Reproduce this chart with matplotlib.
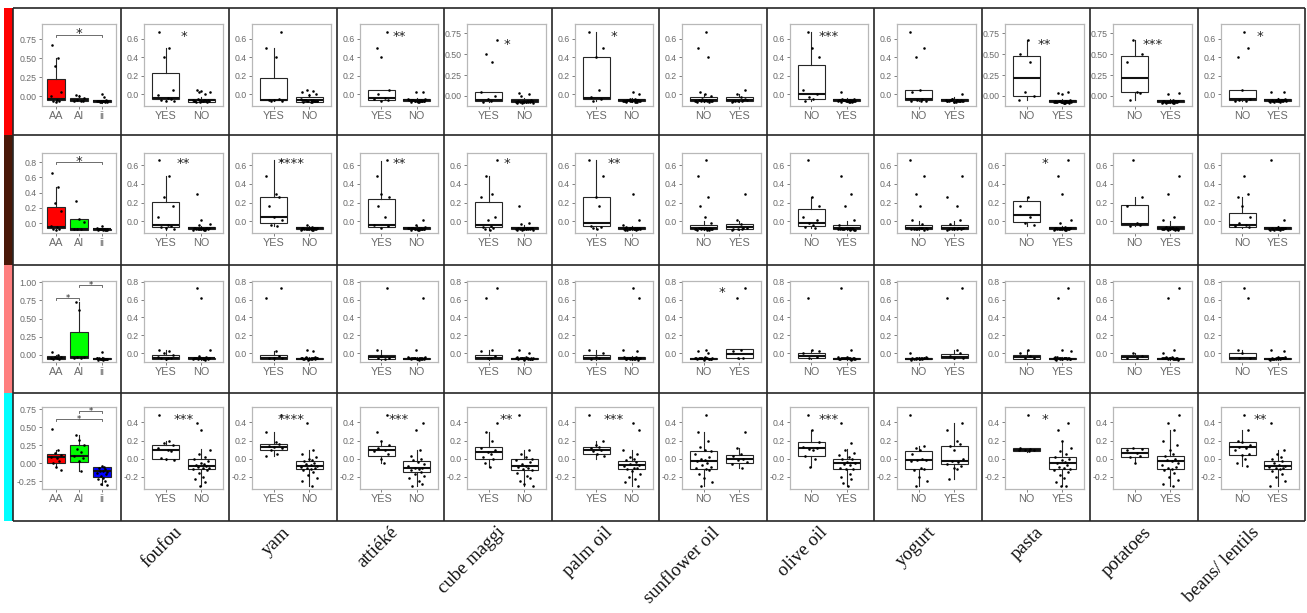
import matplotlib
matplotlib.use("Agg")
import matplotlib.pyplot as plt
from matplotlib.patches import Rectangle

# ---------------- data ----------------
FOODS = ["foufou", "yam", "attiéké", "cube maggi", "palm oil", "sunflower oil",
         "olive oil", "yogurt", "pasta", "potatoes", "beans/ lentils"]
GROUP_A = ["YES", "YES", "YES", "YES", "YES", "NO", "NO", "NO", "NO", "NO", "NO"]
GROUP_B = ["NO", "NO", "NO", "NO", "NO", "YES", "YES", "YES", "YES", "YES", "YES"]
GENOTYPES = ["AA", "AI", "ii"]
GENO_COLORS = ["#FF0000", "#00FF00", "#0000FF"]
ROW_COLORS = ["#FF0000", "#4A1808", "#FF7F7F", "#00FFFF"]

SIG_R1 = ["*", "", "**", "*", "*", "", "***", "", "**", "***", "*"]
SIG_R2 = ["**", "****", "**", "*", "**", "", "", "", "*", "", ""]
SIG_R3 = ["", "", "", "", "", "*", "", "", "", "", ""]
SIG_R4 = ["***", "****", "***", "**", "***", "", "***", "", "*", "", "**"]

# brackets in genotype column: (group from, group to, height)
BR_R1 = [(1, 3, 0.81)]
BR_R2 = [(1, 3, 0.80)]
BR_R3 = [(1, 2, 0.79), (2, 3, 0.97)]
BR_R4 = [(1, 3, 0.62), (2, 3, 0.73)]

# clusters of near-floor values
F1 = [-0.07, -0.06, -0.075, -0.065, -0.08, -0.07, -0.055, -0.075, -0.07, -0.06,
      -0.08, -0.065, -0.07, -0.075, -0.06, -0.085, -0.07, -0.065, -0.075, -0.05,
      -0.07, -0.08]
F2 = [-0.08, -0.07, -0.085, -0.075, -0.09, -0.08, -0.065, -0.085, -0.08, -0.07,
      -0.09, -0.075, -0.08, -0.085, -0.07, -0.095, -0.08, -0.075, -0.085, -0.06,
      -0.08, -0.09]
F3 = [-0.06, -0.05, -0.065, -0.055, -0.07, -0.06, -0.045, -0.065, -0.06, -0.05,
      -0.07, -0.055, -0.06, -0.065, -0.05, -0.075, -0.06, -0.055, -0.065, -0.04,
      -0.06, -0.07]

# box stats: (q1, median, q3, whisker low, whisker high)
R1_GENO_BOX = [(-0.05, -0.04, 0.22, -0.08, 0.5), (-0.065, -0.05, -0.03, -0.07, 0.01),
               (-0.08, -0.07, -0.055, -0.085, -0.045)]
R1_GENO_PTS = [[0.67, 0.5, 0.4, 0.05, 0.0, -0.05, -0.06, -0.07, -0.08],
               [0.01, 0.0, -0.02, -0.05, -0.06, -0.06, -0.07],
               [0.03, -0.01] + F1[:13]]
R1_A_BOX = [(-0.05, -0.04, 0.23, -0.07, 0.5), (-0.065, -0.06, 0.18, -0.07, 0.5),
            (-0.06, -0.04, 0.05, -0.07, 0.05), (-0.06, -0.05, 0.05, -0.07, 0.05),
            (-0.05, -0.04, 0.4, -0.07, 0.67), (-0.075, -0.06, -0.03, -0.085, 0.0),
            (-0.045, 0.0, 0.32, -0.07, 0.67), (-0.065, -0.055, 0.05, -0.07, 0.05),
            (0.0, 0.22, 0.48, -0.05, 0.67), (0.05, 0.22, 0.48, -0.05, 0.67),
            (-0.06, -0.05, 0.05, -0.07, 0.05)]
R1_B_BOX = [(-0.08, -0.065, -0.045, -0.085, -0.03), (-0.08, -0.06, -0.025, -0.085, 0.0),
            (-0.075, -0.065, -0.05, -0.085, -0.04), (-0.075, -0.06, -0.04, -0.085, -0.02),
            (-0.075, -0.065, -0.05, -0.085, -0.04), (-0.075, -0.06, -0.03, -0.085, 0.0),
            (-0.075, -0.065, -0.05, -0.085, -0.04), (-0.075, -0.065, -0.045, -0.085, -0.03),
            (-0.075, -0.065, -0.05, -0.085, -0.04), (-0.075, -0.065, -0.05, -0.085, -0.04),
            (-0.075, -0.065, -0.05, -0.085, -0.04)]
R1_A_PTS = [[0.67, 0.5, 0.4, 0.05, -0.01, -0.04, -0.05, -0.06, -0.07, -0.07],
            [0.67, 0.5, 0.4, -0.05, -0.06, -0.06, -0.07, -0.07],
            [0.67, 0.5, 0.4, 0.05, 0.0, -0.04, -0.05, -0.06, -0.07],
            [0.67, 0.5, 0.4, 0.05, 0.0, -0.04, -0.06, -0.07],
            [0.67, 0.5, 0.4, 0.05, -0.03, -0.05, -0.07],
            [0.67, 0.5, 0.4, 0.03, 0.0, -0.02] + F1[:14],
            [0.67, 0.5, 0.4, 0.05, 0.0, -0.03, -0.05, -0.07],
            [0.67, 0.5, 0.4, 0.05, 0.03, -0.05, -0.06, -0.07, -0.07, -0.07],
            [0.67, 0.5, 0.4, 0.05, 0.0, -0.05],
            [0.67, 0.5, 0.4, 0.05, 0.04, -0.05],
            [0.67, 0.5, 0.4, 0.05, -0.05, -0.06, -0.07, -0.07]]
R1_B_PTS = [[0.05, 0.04, 0.03, 0.02, 0.0] + F1[:16],
            [0.05, 0.04, 0.03, 0.0, -0.01] + F1[:18],
            [0.03, 0.02] + F1[:20],
            [0.03, 0.02, 0.0] + F1[:20],
            [0.02, 0.0] + F1[:22],
            [0.05, 0.0, -0.03] + F1[:8],
            [0.02] + F1[:22],
            [0.0] + F1[:21],
            [0.05, 0.03, 0.02] + F1[:22],
            [0.03, 0.02] + F1[:22],
            [0.03, 0.02] + F1[:21]]

R2_GENO_BOX = [(-0.06, -0.045, 0.21, -0.09, 0.48), (-0.085, -0.07, 0.05, -0.09, 0.05),
               (-0.09, -0.08, -0.07, -0.095, -0.06)]
R2_GENO_PTS = [[0.66, 0.48, 0.26, 0.16, -0.04, -0.05, -0.07, -0.08, -0.09],
               [0.29, 0.05, 0.02, -0.07, -0.08, -0.08],
               [-0.04] + F2[:14]]
R2_A_BOX = [(-0.06, -0.035, 0.21, -0.09, 0.48), (-0.02, 0.05, 0.26, -0.05, 0.66),
            (-0.06, -0.035, 0.24, -0.07, 0.65), (-0.06, -0.04, 0.21, -0.09, 0.48),
            (-0.05, -0.02, 0.26, -0.08, 0.66), (-0.08, -0.065, -0.035, -0.095, 0.0),
            (-0.045, -0.02, 0.13, -0.07, 0.26), (-0.08, -0.065, -0.035, -0.09, 0.0),
            (-0.01, 0.07, 0.22, -0.05, 0.26), (-0.04, -0.03, 0.18, -0.05, 0.26),
            (-0.06, -0.04, 0.09, -0.07, 0.26)]
R2_B_BOX = [(-0.085, -0.075, -0.06, -0.095, -0.05), (-0.085, -0.075, -0.06, -0.095, -0.05),
            (-0.085, -0.075, -0.06, -0.095, -0.05), (-0.085, -0.075, -0.06, -0.095, -0.04),
            (-0.085, -0.075, -0.06, -0.095, -0.05), (-0.08, -0.06, -0.03, -0.09, 0.0),
            (-0.085, -0.07, -0.04, -0.095, 0.0), (-0.08, -0.065, -0.035, -0.09, 0.0),
            (-0.085, -0.075, -0.06, -0.095, -0.05), (-0.085, -0.07, -0.045, -0.095, 0.0),
            (-0.085, -0.075, -0.06, -0.095, -0.05)]
R2_A_PTS = [[0.66, 0.48, 0.26, 0.16, 0.05, -0.04, -0.05, -0.06, -0.07, -0.08],
            [0.66, 0.48, 0.29, 0.26, 0.16, 0.05, 0.02, -0.04, -0.05],
            [0.66, 0.48, 0.29, 0.26, 0.16, 0.05, -0.04, -0.05, -0.07],
            [0.66, 0.48, 0.29, 0.26, 0.05, 0.02, -0.05, -0.06, -0.07, -0.08, -0.09],
            [0.66, 0.48, 0.26, 0.16, -0.05, -0.06, -0.07, -0.08],
            [0.66, 0.48, 0.26, 0.16, 0.05, -0.02] + F2[:16],
            [0.66, 0.26, 0.16, 0.05, 0.02, -0.02, -0.04, -0.06, -0.07],
            [0.66, 0.48, 0.29, 0.16, 0.02, -0.03] + F2[:10],
            [0.26, 0.16, 0.05, -0.02, -0.04],
            [0.66, 0.26, 0.16, -0.02, -0.04, -0.05],
            [0.48, 0.29, 0.26, 0.16, 0.05, -0.02, -0.04, -0.05, -0.06]]
R2_B_PTS = [[0.29, 0.02, -0.03, -0.04] + F2[:17],
            [-0.04] + F2[:21],
            [0.02, -0.04] + F2[:20],
            [0.16, -0.02, -0.03] + F2[:17],
            [0.29, 0.02, -0.04] + F2[:20],
            [0.29, 0.02, -0.03] + F2[:6],
            [0.48, 0.29, 0.16, 0.02, -0.04] + F2[:17],
            [0.48, 0.26, 0.16, 0.02, -0.03] + F2[:10],
            [0.66, 0.48, 0.29, 0.02, -0.02] + F2[:21],
            [0.48, 0.29, 0.05, 0.02] + F2[:21],
            [0.66, 0.02] + F2[:20]]

R3_GENO_BOX = [(-0.06, -0.045, -0.02, -0.065, 0.0), (-0.045, -0.035, 0.31, -0.05, 0.73),
               (-0.065, -0.055, -0.045, -0.07, -0.04)]
R3_GENO_PTS = [[0.03, 0.0, -0.03, -0.04, -0.05, -0.05, -0.06, -0.06],
               [0.73, 0.62, -0.03, -0.04, -0.05, -0.05],
               [0.04] + F3[:15]]
R3_A_BOX = [(-0.07, -0.05, -0.02, -0.075, 0.03), (-0.07, -0.05, -0.02, -0.075, 0.02),
            (-0.07, -0.045, -0.02, -0.075, 0.03), (-0.07, -0.05, -0.02, -0.075, 0.03),
            (-0.07, -0.05, -0.02, -0.075, 0.03), (-0.07, -0.065, -0.05, -0.075, -0.04),
            (-0.06, -0.03, 0.0, -0.065, 0.03), (-0.07, -0.065, -0.05, -0.075, -0.04),
            (-0.065, -0.045, -0.02, -0.07, 0.03), (-0.065, -0.045, -0.02, -0.07, 0.0),
            (-0.065, -0.05, 0.0, -0.07, 0.03)]
R3_B_BOX = [(-0.07, -0.06, -0.05, -0.075, -0.04), (-0.07, -0.065, -0.05, -0.075, -0.04),
            (-0.07, -0.065, -0.05, -0.075, -0.04), (-0.07, -0.065, -0.05, -0.075, -0.04),
            (-0.07, -0.06, -0.045, -0.075, -0.03), (-0.055, -0.01, 0.045, -0.065, 0.045),
            (-0.07, -0.065, -0.05, -0.075, -0.04), (-0.06, -0.04, -0.01, -0.065, 0.03),
            (-0.07, -0.065, -0.05, -0.075, -0.04), (-0.07, -0.065, -0.05, -0.075, -0.04),
            (-0.07, -0.065, -0.05, -0.075, -0.04)]
R3_A_PTS = [[0.03, 0.02, 0.0, -0.02, -0.04, -0.05, -0.06, -0.06, -0.07],
            [0.73, 0.62, 0.02, -0.03, -0.05, -0.06, -0.06],
            [0.73, 0.03, -0.03, -0.05, -0.06, -0.07],
            [0.73, 0.62, 0.03, 0.02, -0.03, -0.05, -0.06],
            [0.03, 0.0, -0.04, -0.06, -0.07],
            [0.03, 0.02, 0.0] + F3[:17],
            [0.62, 0.03, 0.02, 0.0, -0.04, -0.06],
            [0.0] + F3[:16],
            [0.03, 0.0, -0.03, -0.05, -0.06],
            [0.0, -0.03, -0.05, -0.06],
            [0.73, 0.62, 0.03, 0.0, -0.05, -0.06]]
R3_B_PTS = [[0.73, 0.62, 0.04, -0.03] + F3[:18],
            [0.03, 0.02] + F3[:22],
            [0.62, 0.04] + F3[:21],
            [0.03, 0.0] + F3[:22],
            [0.73, 0.62, 0.03, 0.02] + F3[:20],
            [0.73, 0.62, 0.04, 0.02, -0.05, -0.06],
            [0.73, 0.04] + F3[:20],
            [0.73, 0.62, 0.03, 0.0, -0.03, -0.05, -0.06],
            [0.73, 0.62, 0.03, 0.02] + F3[:20],
            [0.73, 0.62, 0.03, 0.0] + F3[:20],
            [0.03, 0.02] + F3[:20]]

R4_GENO_BOX = [(0.0, 0.09, 0.13, -0.05, 0.19), (0.02, 0.1, 0.25, -0.1, 0.39),
               (-0.19, -0.11, -0.05, -0.3, -0.03)]
R4_GENO_PTS = [[0.48, 0.19, 0.14, 0.12, 0.09, 0.07, 0.03, 0.0, -0.05, -0.09],
               [0.39, 0.33, 0.25, 0.2, 0.16, 0.1, 0.07, 0.03, -0.1],
               [-0.03, -0.05, -0.06, -0.08, -0.1, -0.11, -0.12, -0.13, -0.15, -0.18,
                -0.2, -0.22, -0.25, -0.28, -0.3]]
R4_A_BOX = [(0.0, 0.1, 0.155, -0.02, 0.19), (0.1, 0.13, 0.16, 0.03, 0.3),
            (0.03, 0.1, 0.14, -0.05, 0.19), (0.0, 0.07, 0.13, -0.09, 0.3),
            (0.05, 0.1, 0.13, 0.0, 0.19), (-0.12, -0.03, 0.08, -0.3, 0.3),
            (0.03, 0.12, 0.18, -0.09, 0.32), (-0.12, -0.02, 0.08, -0.3, 0.14),
            (0.08, 0.1, 0.12, 0.07, 0.12), (0.02, 0.06, 0.12, -0.05, 0.12),
            (0.04, 0.13, 0.18, -0.08, 0.32)]
R4_B_BOX = [(-0.12, -0.08, -0.01, -0.3, 0.11), (-0.12, -0.08, -0.03, -0.3, 0.1),
            (-0.15, -0.1, -0.03, -0.3, 0.1), (-0.13, -0.08, -0.01, -0.3, 0.1),
            (-0.12, -0.07, -0.03, -0.3, 0.1), (-0.05, 0.0, 0.04, -0.1, 0.12),
            (-0.115, -0.055, 0.0, -0.3, 0.11), (-0.065, -0.025, 0.14, -0.23, 0.39),
            (-0.12, -0.05, 0.02, -0.3, 0.2), (-0.12, -0.03, 0.03, -0.3, 0.32),
            (-0.12, -0.08, -0.03, -0.3, 0.1)]
R4_A_PTS = [[0.48, 0.19, 0.17, 0.15, 0.12, 0.1, 0.08, 0.01, 0.0, -0.02],
            [0.48, 0.3, 0.18, 0.16, 0.14, 0.13, 0.12, 0.1, 0.05, 0.03],
            [0.48, 0.3, 0.19, 0.15, 0.12, 0.1, 0.08, 0.05, 0.0, -0.05],
            [0.39, 0.3, 0.19, 0.12, 0.1, 0.07, 0.05, 0.02, 0.0, -0.05, -0.09],
            [0.48, 0.19, 0.15, 0.13, 0.12, 0.1, 0.08, 0.05, 0.03],
            [0.48, 0.3, 0.19, 0.13, 0.1, 0.08, 0.05, 0.02, 0.0, -0.02, -0.03, -0.05,
             -0.07, -0.09, -0.11, -0.12, -0.13, -0.17, -0.22, -0.26, -0.3],
            [0.48, 0.32, 0.18, 0.13, 0.12, 0.11, 0.1, 0.03, 0.0, -0.09],
            [0.48, 0.14, 0.12, 0.1, 0.05, 0.0, -0.02, -0.02, -0.03, -0.1, -0.12, -0.13,
             -0.2, -0.25, -0.3],
            [0.48, 0.12, 0.11, 0.1, 0.1, 0.09, 0.08],
            [0.12, 0.11, 0.1, 0.06, 0.03, 0.02, -0.05],
            [0.48, 0.32, 0.2, 0.18, 0.15, 0.13, 0.12, 0.1, 0.05, 0.04, 0.0, -0.05, -0.08]]
R4_B_PTS = [[0.39, 0.32, 0.1, 0.05, 0.02, -0.01, -0.03, -0.05, -0.06, -0.07, -0.08, -0.09,
             -0.1, -0.11, -0.12, -0.13, -0.16, -0.2, -0.23, -0.26, -0.3],
            [0.39, 0.1, 0.05, 0.02, 0.0, -0.02, -0.03, -0.05, -0.06, -0.07, -0.08, -0.09,
             -0.1, -0.11, -0.12, -0.13, -0.15, -0.18, -0.22, -0.25, -0.3],
            [0.39, 0.32, 0.1, 0.03, 0.0, -0.02, -0.04, -0.06, -0.08, -0.1, -0.11, -0.12,
             -0.13, -0.15, -0.17, -0.19, -0.22, -0.25, -0.28, -0.3],
            [0.48, 0.1, 0.05, 0.02, 0.0, -0.02, -0.04, -0.06, -0.08, -0.09, -0.1, -0.12,
             -0.13, -0.16, -0.19, -0.22, -0.25, -0.28, -0.3],
            [0.39, 0.32, 0.1, 0.05, 0.02, 0.0, -0.02, -0.04, -0.06, -0.07, -0.08, -0.1,
             -0.11, -0.12, -0.14, -0.17, -0.2, -0.23, -0.26, -0.3],
            [0.3, 0.12, 0.05, 0.03, 0.0, -0.02, -0.04, -0.06, -0.1],
            [0.39, 0.17, 0.1, 0.06, 0.04, 0.02, 0.0, -0.01, -0.04, -0.05, -0.06, -0.07,
             -0.1, -0.12, -0.12, -0.17, -0.2, -0.23, -0.27, -0.3],
            [0.39, 0.32, 0.19, 0.16, 0.14, 0.1, 0.0, -0.03, -0.04, -0.06, -0.08, -0.1,
             -0.12, -0.23],
            [0.39, 0.32, 0.2, 0.12, 0.08, 0.05, 0.02, 0.0, -0.02, -0.04, -0.05, -0.07,
             -0.09, -0.11, -0.12, -0.13, -0.15, -0.18, -0.22, -0.26, -0.3, -0.3],
            [0.48, 0.39, 0.32, 0.2, 0.15, 0.1, 0.05, 0.03, 0.0, -0.02, -0.03, -0.05,
             -0.07, -0.09, -0.11, -0.12, -0.13, -0.16, -0.2, -0.24, -0.28, -0.3],
            [0.39, 0.1, 0.05, 0.02, -0.01, -0.03, -0.05, -0.07, -0.08, -0.09, -0.1, -0.11,
             -0.12, -0.14, -0.17, -0.2, -0.25, -0.3]]

# ---------------- layout (pixels) ----------------
W, H = 1307, 613
CELL_X = [13, 121, 229, 337, 444, 552, 659, 767, 874, 982, 1090, 1198, 1305]
CELL_Y = [8, 135, 265, 393, 521]
PANEL_TOP = [24, 153, 281, 407]
PANEL_BOT = [106, 233, 362, 489]

YLIM_GENO = [(-0.13, 0.95), (-0.128, 0.92), (-0.103, 1.02), (-0.355, 0.78)]
TICKS_GENO = [[0, 0.25, 0.5, 0.75], [0, 0.2, 0.4, 0.6, 0.8],
              [0, 0.25, 0.5, 0.75, 1.0], [-0.25, 0, 0.25, 0.5, 0.75]]
DEC_GENO = [2, 1, 2, 2]
YLIM_FOOD = [(-0.126, 0.76), (-0.123, 0.73), (-0.1, 0.81), (-0.338, 0.572)]
YLIM_FOOD_WIDE = (-0.12, 0.86)
WIDE_R1 = [False, False, False, True, False, False, False, False, True, True, False]
TICKS_FOOD = [[0, 0.2, 0.4, 0.6], [0, 0.2, 0.4, 0.6], [0, 0.2, 0.4, 0.6, 0.8],
              [-0.2, 0, 0.2, 0.4]]
TICKS_WIDE = [0, 0.25, 0.5, 0.75]

JIT = [-0.17, 0.11, -0.04, 0.2, -0.22, 0.06, 0.15, -0.12, 0.0, 0.23, -0.08, 0.1,
       -0.2, 0.18, -0.02, 0.08, -0.15, 0.13, -0.1, 0.03, 0.21, -0.24, 0.16, -0.06, 0.05]

GREY_TXT = "#6A6A6A"
BORDER = "#B8B8B8"
LINE = "#262626"

fig = plt.figure(figsize=(W / 100, H / 100), dpi=100)

gax = fig.add_axes([0, 0, 1, 1])
gax.set_xlim(0, W)
gax.set_ylim(H, 0)
gax.axis("off")

# coloured strip on the left
for r in range(4):
    gax.add_patch(Rectangle((4, CELL_Y[r]), 9, CELL_Y[r + 1] - CELL_Y[r],
                            facecolor=ROW_COLORS[r], edgecolor="none"))
# table grid
for x in CELL_X:
    gax.plot([x, x], [CELL_Y[0], CELL_Y[-1]], color=LINE, lw=1.2, solid_capstyle="butt")
for y in CELL_Y:
    gax.plot([CELL_X[0], CELL_X[-1]], [y, y], color=LINE, lw=1.2, solid_capstyle="butt")

# category labels
for c, name in enumerate(FOODS):
    cx = (CELL_X[c + 1] + CELL_X[c + 2]) / 2
    gax.text(cx + 8, 533, name, rotation=45, rotation_mode="anchor",
             ha="right", va="baseline", fontsize=13.5, family="Liberation Serif",
             color="#111111")


def fmt(v, d):
    return f"{v:.{d}f}"


def make_axes(r, c):
    if c == 0:
        left, right = 42, 116
    else:
        left, right = CELL_X[c] + 23, CELL_X[c + 1] - 6
    top, bot = PANEL_TOP[r], PANEL_BOT[r]
    ax = fig.add_axes([left / W, 1 - bot / H, (right - left) / W, (bot - top) / H])
    ax.set_facecolor("white")
    for sp in ax.spines.values():
        sp.set_color(BORDER)
        sp.set_linewidth(0.9)
    ax.tick_params(axis="both", colors=GREY_TXT, length=2.5, width=0.6, pad=1.2)
    return ax


def draw(ax, stats, pts, labels, colors, ylim, ticks, dec, seed):
    n = len(stats)
    pos = list(range(1, n + 1))
    bstats = []
    for (q1, med, q3, lo, hi) in stats:
        bstats.append(dict(q1=q1, med=med, q3=q3, whislo=lo, whishi=hi, fliers=[]))
    res = ax.bxp(bstats, positions=pos, widths=0.75, patch_artist=True,
                 showfliers=False, showcaps=False,
                 boxprops=dict(edgecolor=LINE, linewidth=0.8),
                 medianprops=dict(color="#111111", linewidth=1.5),
                 whiskerprops=dict(color=LINE, linewidth=0.8))
    for patch, col in zip(res["boxes"], colors):
        patch.set_facecolor(col)
    for g, vals in enumerate(pts):
        xs = [pos[g] + JIT[(i + 7 * g + seed) % len(JIT)] for i in range(len(vals))]
        ax.scatter(xs, vals, s=3.4, color="black", linewidths=0, zorder=5)
    ax.set_xlim(0.4, n + 0.6)
    ax.set_ylim(*ylim)
    ax.set_xticks(pos)
    ax.set_xticklabels(labels, fontsize=7.8, family="Liberation Sans", color=GREY_TXT)
    ax.set_yticks(ticks)
    ax.set_yticklabels([fmt(t, dec) for t in ticks], fontsize=6.3,
                       family="Liberation Sans", color=GREY_TXT)


def star(ax, x, y, text, fs=9.5, dy=-3.0):
    ax.annotate(text, xy=(x, y), xytext=(0, dy), textcoords="offset points",
                ha="center", va="center", fontsize=fs, family="DejaVu Sans",
                color="#222222", zorder=6)


ROWS = [
    (R1_GENO_BOX, R1_GENO_PTS, R1_A_BOX, R1_B_BOX, R1_A_PTS, R1_B_PTS, SIG_R1, BR_R1),
    (R2_GENO_BOX, R2_GENO_PTS, R2_A_BOX, R2_B_BOX, R2_A_PTS, R2_B_PTS, SIG_R2, BR_R2),
    (R3_GENO_BOX, R3_GENO_PTS, R3_A_BOX, R3_B_BOX, R3_A_PTS, R3_B_PTS, SIG_R3, BR_R3),
    (R4_GENO_BOX, R4_GENO_PTS, R4_A_BOX, R4_B_BOX, R4_A_PTS, R4_B_PTS, SIG_R4, BR_R4),
]

for r, (gbox, gpts, abox, bbox, apts, bpts, sig, brs) in enumerate(ROWS):
    # genotype panel
    ax = make_axes(r, 0)
    draw(ax, gbox, gpts, GENOTYPES, GENO_COLORS, YLIM_GENO[r], TICKS_GENO[r],
         DEC_GENO[r], 0)
    yr = YLIM_GENO[r][1] - YLIM_GENO[r][0]
    tick = yr * 2.0 / (PANEL_BOT[r] - PANEL_TOP[r])
    small = r >= 2
    for (g1, g2, h) in brs:
        ax.plot([g1, g1, g2, g2], [h - tick, h, h, h - tick], color="#555555", lw=0.6)
        star(ax, (g1 + g2) / 2, h, "*", fs=6 if small else 9.5, dy=-0.5 if small else 0.5)
    # food panels
    for c in range(11):
        ax = make_axes(r, c + 1)
        if r == 0 and WIDE_R1[c]:
            ylim, ticks, dec = YLIM_FOOD_WIDE, TICKS_WIDE, 2
        else:
            ylim, ticks, dec = YLIM_FOOD[r], TICKS_FOOD[r], 1
        draw(ax, [abox[c], bbox[c]], [apts[c], bpts[c]], [GROUP_A[c], GROUP_B[c]],
             ["white", "white"], ylim, ticks, dec, c * 3)
        if sig[c]:
            top = max(max(apts[c]), max(bpts[c]))
            star(ax, 1.5, top, sig[c])

fig.savefig("out.png", dpi=100)
